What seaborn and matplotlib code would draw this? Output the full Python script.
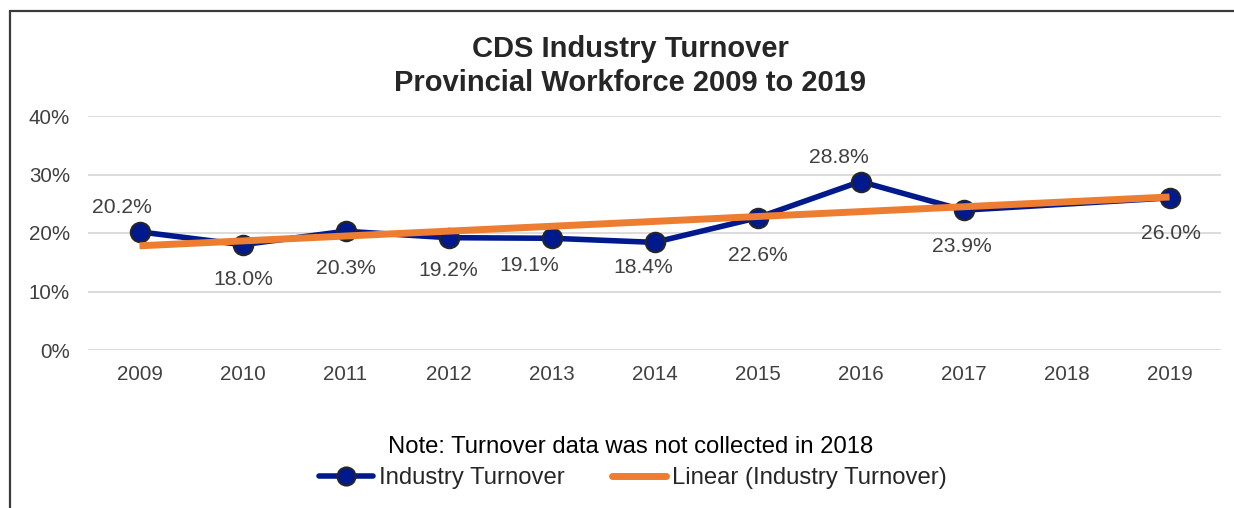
import numpy as np
import pandas as pd
import matplotlib
matplotlib.use("Agg")
import matplotlib.pyplot as plt
from matplotlib.lines import Line2D
import seaborn as sns

# Annual turnover figures (no collection in 2018)
years = ["2009", "2010", "2011", "2012", "2013", "2014", "2015", "2016", "2017", "2018", "2019"]
turnover = [0.202, 0.180, 0.203, 0.192, 0.191, 0.184, 0.226, 0.288, 0.239, np.nan, 0.260]
y_ticks = [0.0, 0.1, 0.2, 0.3, 0.4]
y_tick_labels = ["0%", "10%", "20%", "30%", "40%"]

# Label offsets (pixels) for each data label, placed around its marker
label_offsets = [(-18, 24), (1, -35), (0, -37), (0, -33), (-22, -27),
                 (-11, -25), (0, -38), (-22, 24), (-2, -36), None, (1, -36)]

sns.set_theme(style="white")
plt.rcParams["font.family"] = ["Liberation Sans", "DejaVu Sans"]

W, H = 1234, 508
fig = plt.figure(figsize=(W / 100, H / 100), dpi=100)
ax = fig.add_axes([88 / W, 1 - 350 / H, (1221 - 88) / W, (350 - 116) / H])

df = pd.DataFrame({"pos": np.arange(len(years)), "year": years, "turnover": turnover})
valid = df.dropna()

navy = "#00198c"
orange = "#ED7D31"

# Gridlines
for t in y_ticks:
    ax.axhline(t, color="#d9d9d9", lw=1.3, zorder=0)

sns.lineplot(data=valid, x="pos", y="turnover", ax=ax, color=navy, lw=4,
             marker="o", markersize=14, markerfacecolor=navy,
             markeredgecolor="#262626", markeredgewidth=1.5, zorder=3)

# Linear trend over the year positions with data
coef = np.polyfit(valid["pos"], valid["turnover"], 1)
tx = np.array([valid["pos"].min(), valid["pos"].max()])
ax.plot(tx, np.polyval(coef, tx), color=orange, lw=5, solid_capstyle="butt", zorder=4)

for i, row in df.iterrows():
    if np.isnan(row["turnover"]):
        continue
    dx, dy = label_offsets[i]
    ax.annotate(f"{row['turnover'] * 100:.1f}%", (row["pos"], row["turnover"]),
                xytext=(dx, dy), textcoords="offset pixels", ha="center", va="center",
                fontsize=15.2, color="#404040", zorder=5)

ax.set_xlim(-0.5, len(years) - 0.5)
ax.set_ylim(0, 0.4)
ax.set_xticks(np.arange(len(years)))
ax.set_xticklabels(years)
ax.set_yticks(y_ticks)
ax.set_yticklabels(y_tick_labels)
ax.tick_params(axis="both", length=0, labelsize=14.8, labelcolor="#404040")
ax.tick_params(axis="x", pad=11)
ax.tick_params(axis="y", pad=13)
ax.set_xlabel("")
ax.set_ylabel("")
for s in ax.spines.values():
    s.set_visible(False)

fig.text(630 / W, 1 - 66 / H, "CDS Industry Turnover\nProvincial Workforce 2009 to 2019",
         ha="center", va="center", fontsize=21, fontweight="bold", color="#262626",
         linespacing=1.26)

fig.text(631 / W, 1 - 447 / H, "Note: Turnover data was not collected in 2018",
         ha="center", va="center", fontsize=17.2, color="#000000")

handles = [
    Line2D([], [], color=navy, lw=4, marker="o", markersize=13, markerfacecolor=navy,
           markeredgecolor="#262626", markeredgewidth=1.5),
    Line2D([], [], color=orange, lw=5),
]
fig.legend(handles, ["Industry Turnover", "Linear (Industry Turnover)"],
           loc="center", bbox_to_anchor=(633 / W, 1 - 478 / H), ncol=2, frameon=False,
           fontsize=17.2, handlelength=2.26, handletextpad=0.25, columnspacing=2.0,
           labelcolor="#262626")

# Chart frame
lc = "#3a3a3a"
fig.add_artist(Line2D([10.5 / W, 10.5 / W], [0, 1 - 10.5 / H], transform=fig.transFigure,
                      color=lc, lw=1.6))
fig.add_artist(Line2D([10.5 / W, 1], [1 - 10.5 / H, 1 - 10.5 / H], transform=fig.transFigure,
                      color=lc, lw=1.6))

fig.savefig("out.png", dpi=100, facecolor="white")
